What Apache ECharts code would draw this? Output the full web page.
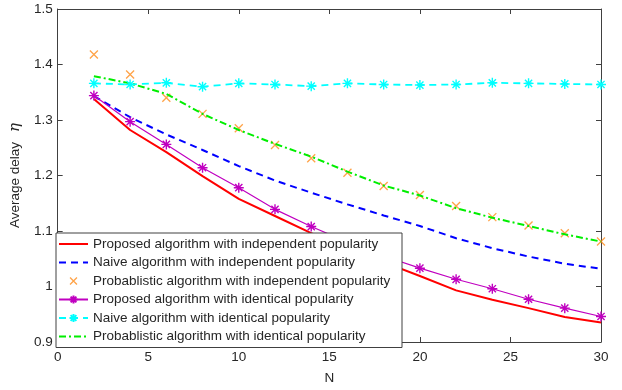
<!DOCTYPE html>
<html>
<head>
<meta charset="utf-8">
<script src="https://cdn.jsdelivr.net/npm/echarts@6/dist/echarts.min.js"></script>
<style>
  html, body { margin: 0; padding: 0; background: #fff; }
  #chart { width: 622px; height: 390px; }
</style>
</head>
<body>
<div id="chart"></div>
<script>
// N values on the x axis
var nValues = [2, 4, 6, 8, 10, 12, 14, 16, 18, 20, 22, 24, 26, 28, 30]
// average delay per curve
var proposedIndep = [1.338, 1.282, 1.242, 1.199, 1.158, 1.127, 1.096, 1.070, 1.044, 1.019, 0.993, 0.976, 0.961, 0.945, 0.935]
var naiveIndep = [1.343, 1.305, 1.274, 1.246, 1.217, 1.191, 1.169, 1.148, 1.128, 1.109, 1.087, 1.069, 1.054, 1.041, 1.032]
var probIndep = [1.418, 1.382, 1.340, 1.311, 1.285, 1.255, 1.231, 1.205, 1.181, 1.165, 1.145, 1.125, 1.110, 1.096, 1.081]
var proposedIdent = [1.344, 1.297, 1.256, 1.214, 1.178, 1.139, 1.108, 1.080, 1.055, 1.033, 1.013, 0.996, 0.977, 0.961, 0.946]
var naiveIdent = [1.366, 1.364, 1.367, 1.360, 1.366, 1.364, 1.361, 1.366, 1.364, 1.363, 1.364, 1.367, 1.366, 1.365, 1.364]
var probIdent = [1.379, 1.366, 1.347, 1.311, 1.282, 1.257, 1.234, 1.207, 1.182, 1.164, 1.141, 1.124, 1.109, 1.094, 1.081]

var seriesNames = [
  'Proposed algorithm with independent popularity',
  'Naive algorithm with independent popularity',
  'Probablistic algorithm with independent popularity',
  'Proposed algorithm with identical popularity',
  'Naive algorithm with identical popularity',
  'Probablistic algorithm with identical popularity'
]

var ASTERISK = 'path://M0,-1L0,1M-1,0L1,0M-0.72,-0.72L0.72,0.72M-0.72,0.72L0.72,-0.72'
var CROSS = 'path://M-1,-1L1,1M-1,1L1,-1'
// same cross with some empty room round it, so the legend draws it small
var CROSS_SMALL = 'path://M-1.45,-1.45M-1,-1L1,1M-1,1L1,-1M1.45,1.45'
var FONT = 'Liberation Sans, Arial, sans-serif'
var FS = 13.5
var TXT = '#262626'
var AXC = '#404040'
var ORANGE = '#ff8c1a'

function pairs (ys) {
  return nValues.map(function (n, i) { return [n, ys[i]] })
}

var noMark = { opacity: 0 }

var chart = echarts.init(document.getElementById('chart'))
chart.setOption({
  animation: false,
  backgroundColor: '#fff',
  textStyle: { fontFamily: FONT },
  grid: { left: 56, right: 21, top: 9, bottom: 43 },
  xAxis: [
    {
      type: 'value', min: 0, max: 30, interval: 5,
      name: 'N', nameLocation: 'middle', nameGap: 29,
      nameTextStyle: { color: TXT, fontSize: FS, fontFamily: FONT },
      axisLine: { onZero: false, lineStyle: { color: AXC, width: 1 } },
      axisTick: { inside: true, length: 5, lineStyle: { color: AXC } },
      axisLabel: { color: TXT, fontSize: FS, margin: 8, fontFamily: FONT },
      splitLine: { show: false }
    },
    {
      type: 'value', min: 0, max: 30, interval: 5, position: 'top',
      axisLine: { onZero: false, lineStyle: { color: AXC, width: 1 } },
      axisTick: { inside: true, length: 5, lineStyle: { color: AXC } },
      axisLabel: { show: false },
      splitLine: { show: false }
    }
  ],
  yAxis: [
    {
      type: 'value', min: 0.9, max: 1.5, interval: 0.1,
      name: '{a|Average delay}{b|η}', nameLocation: 'middle', nameGap: 26,
      nameTextStyle: {
        color: TXT, fontSize: FS, fontFamily: FONT,
        rich: {
          a: { color: TXT, fontSize: FS, fontFamily: FONT },
          b: { color: TXT, fontSize: 15, fontStyle: 'italic', fontFamily: 'DejaVu Serif, serif', padding: [0, 0, 0, 10] }
        }
      },
      axisLine: { onZero: false, lineStyle: { color: AXC, width: 1 } },
      axisTick: { inside: true, length: 5, lineStyle: { color: AXC } },
      axisLabel: {
        color: TXT, fontSize: FS, margin: 5, fontFamily: FONT,
        formatter: function (v) { return Math.abs(v - 1) < 1e-9 ? '1' : v.toFixed(1) }
      },
      splitLine: { show: false }
    },
    {
      type: 'value', min: 0.9, max: 1.5, interval: 0.1, position: 'right',
      axisLine: { onZero: false, lineStyle: { color: AXC, width: 1 } },
      axisTick: { inside: true, length: 5, lineStyle: { color: AXC } },
      axisLabel: { show: false },
      splitLine: { show: false }
    }
  ],
  legend: {
    orient: 'vertical',
    left: 56, top: 233,
    padding: [4, 4, 4, 2],
    itemWidth: 29, itemHeight: 10, itemGap: 4.5,
    backgroundColor: '#fff',
    borderColor: AXC, borderWidth: 1,
    textStyle: { color: TXT, fontSize: FS, fontFamily: FONT, lineHeight: 14, width: 305 },
    data: [
      { name: seriesNames[0], itemStyle: noMark },
      { name: seriesNames[1], itemStyle: noMark },
      { name: seriesNames[2], icon: CROSS_SMALL, itemStyle: { color: ORANGE, borderColor: ORANGE, borderWidth: 1.3 } },
      { name: seriesNames[3] },
      { name: seriesNames[4] },
      { name: seriesNames[5], itemStyle: noMark }
    ]
  },
  series: [
    {
      name: seriesNames[0], type: 'line', data: pairs(proposedIndep),
      symbol: 'none', color: '#ff0000',
      lineStyle: { color: '#ff0000', width: 2 }
    },
    {
      name: seriesNames[1], type: 'line', data: pairs(naiveIndep),
      symbol: 'none', color: '#0000ff',
      lineStyle: { color: '#0000ff', width: 2, type: [7, 5] }
    },
    {
      name: seriesNames[2], type: 'scatter', data: pairs(probIndep),
      symbol: CROSS, symbolSize: 8,
      itemStyle: { color: ORANGE, borderColor: ORANGE, borderWidth: 1.3 }
    },
    {
      name: seriesNames[3], type: 'line', data: pairs(proposedIdent),
      symbol: ASTERISK, symbolSize: 10, showAllSymbol: true, color: '#c000c0',
      itemStyle: { color: '#c000c0', borderColor: '#c000c0', borderWidth: 1.4 },
      lineStyle: { color: '#c000c0', width: 1.2 }
    },
    {
      name: seriesNames[4], type: 'line', data: pairs(naiveIdent),
      symbol: ASTERISK, symbolSize: 10, showAllSymbol: true, color: '#00ffff',
      itemStyle: { color: '#00ffff', borderColor: '#00ffff', borderWidth: 1.4 },
      lineStyle: { color: '#00ffff', width: 1.8, type: [7, 5] }
    },
    {
      name: seriesNames[5], type: 'line', data: pairs(probIdent),
      symbol: 'none', color: '#00ee00',
      lineStyle: { color: '#00ee00', width: 2, type: [7, 3, 2, 3] }
    }
  ]
})
</script>
</body>
</html>
